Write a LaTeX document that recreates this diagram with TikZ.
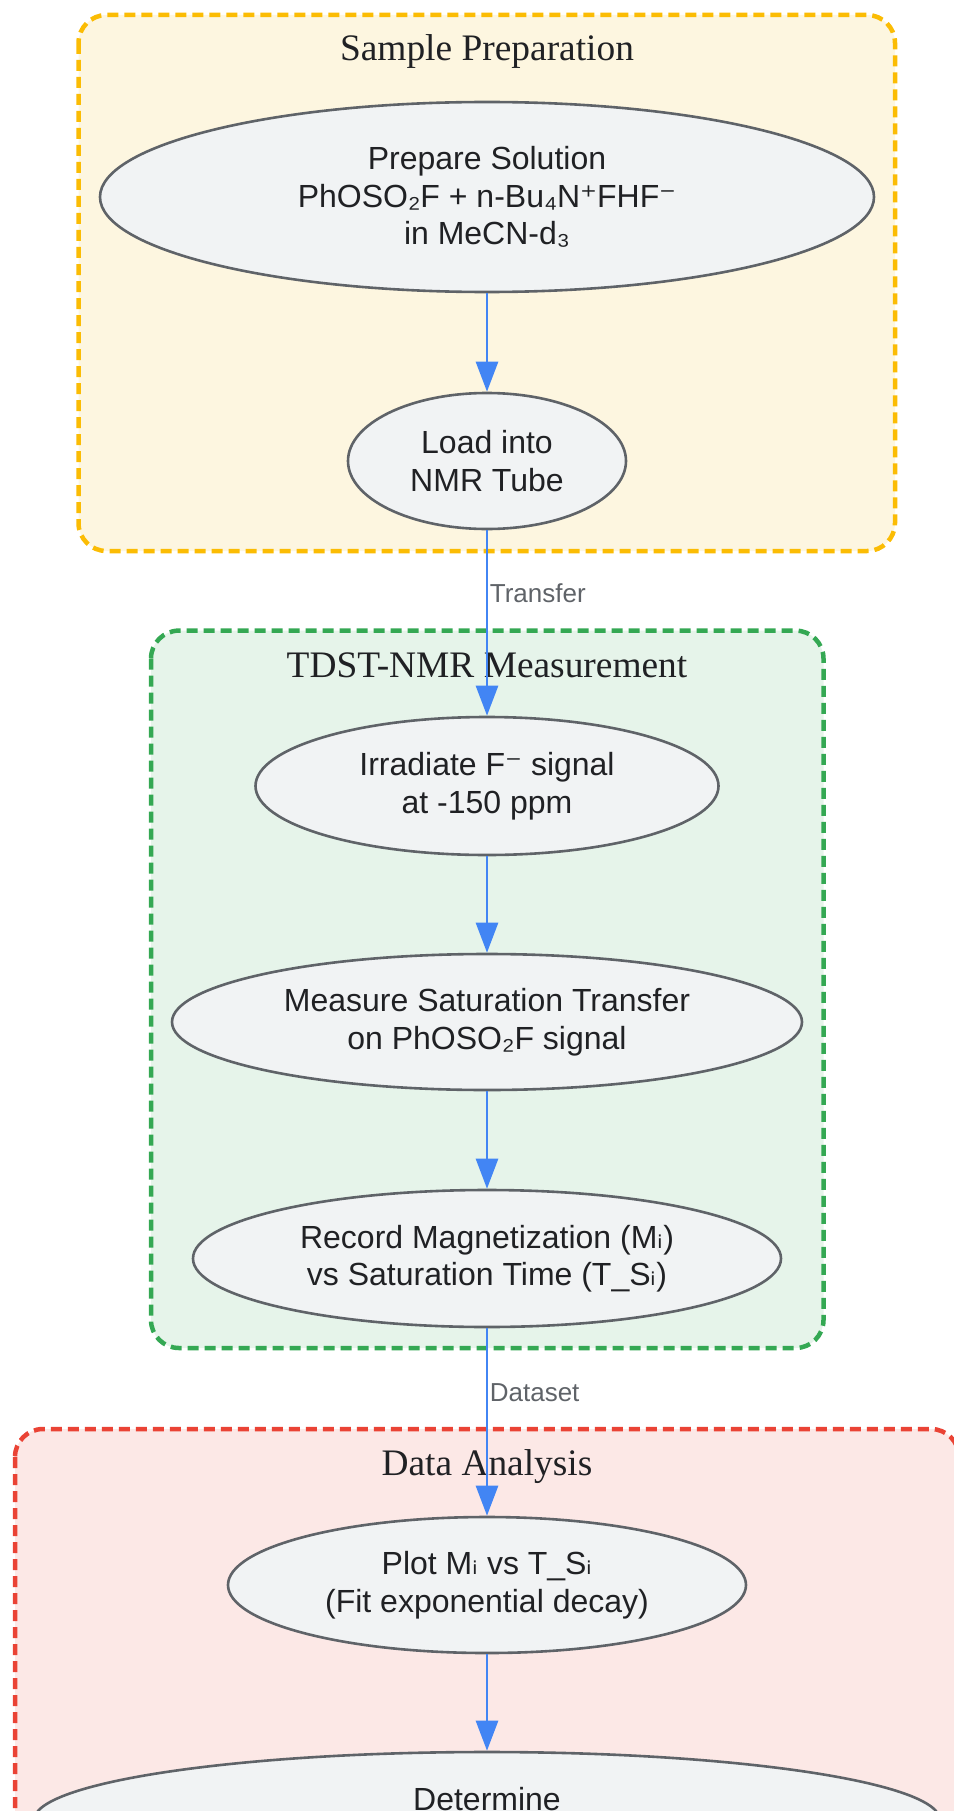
\documentclass[tikz,border=0pt]{standalone}
\usepackage{fontspec}
\setmainfont{Liberation Serif}
\newfontfamily\nodefont{Liberation Sans}
\newfontfamily\symfont{DejaVu Sans}
\usetikzlibrary{shapes.geometric,arrows.meta}
\definecolor{yfill}{HTML}{FDF6E0}
\definecolor{yline}{HTML}{FBBC04}
\definecolor{gfill}{HTML}{E6F4EA}
\definecolor{gline}{HTML}{34A853}
\definecolor{rfill}{HTML}{FCE8E6}
\definecolor{rline}{HTML}{EA4335}
\definecolor{nfill}{HTML}{F1F3F4}
\definecolor{nline}{HTML}{5F6368}
\definecolor{ablue}{HTML}{4285F4}
\definecolor{tdark}{HTML}{202124}
\definecolor{tgray}{HTML}{5F6368}
\newcommand{\subi}{{\symfont ᵢ}}
\newcommand{\supplus}{{\symfont ⁺}}
\newcommand{\supminus}{{\symfont ⁻}}
\begin{document}
\begin{tikzpicture}[x=1pt,y=-1pt,
  groupbox/.style={line width=4.5pt, dash pattern=on 11pt off 6pt, rounded corners=28pt},
  proc/.style={ellipse, draw=nline, fill=nfill, line width=2.6pt, inner sep=0pt, align=center,
    font=\nodefont\fontsize{32}{37.5}\selectfont, text=tdark},
  ptext/.style={inner sep=0pt, align=center, font=\nodefont\fontsize{32}{37.5}\selectfont, text=tdark},
  arr/.style={draw=ablue, line width=2.7pt, -{Triangle[length=30pt,width=22pt]}},
  elabel/.style={font=\nodefont\fontsize{26}{30}\selectfont, text=tgray, anchor=base west, inner sep=0pt, xshift=1.5pt},
  gtitle/.style={font=\fontsize{37.4}{44}\selectfont, text=tdark, anchor=base, inner sep=0pt}]
\useasboundingbox (0,0) rectangle (953,1811);
% group boxes
\draw[groupbox, draw=yline, fill=yfill] (78.5,15) rectangle (895,551);
\draw[groupbox, draw=gline, fill=gfill] (151,630.6) rectangle (823.5,1348);
\draw[groupbox, draw=rline, fill=rfill] (15,1429) rectangle (959,1960);
\node[gtitle] (t1) at (487,61) {Sample Preparation};
\node[gtitle] (t2) at (487,677) {TDST-NMR Measurement};
\node[gtitle] (t3) at (487,1475) {Data Analysis};
% process nodes
\node[proc, minimum width=774pt, minimum height=190pt] (e1) at (487,197)
  {Prepare Solution\\PhOSO₂F + n-Bu₄N\supplus FHF\supminus\\in MeCN-d₃};
\node[proc, minimum width=278pt, minimum height=136pt] (e2) at (487,461)
  {Load into\\NMR Tube};
\node[proc, minimum width=463pt, minimum height=138pt] (e3) at (487,786)
  {Irradiate F\supminus{} signal\\at -150 ppm};
\node[proc, minimum width=630pt, minimum height=136pt] (e4) at (487,1022)
  {Measure Saturation Transfer\\on PhOSO₂F signal};
\node[proc, minimum width=588pt, minimum height=137pt] (e5) at (487,1258.5)
  {Record Magnetization (M\subi)\\vs Saturation Time (T\_S\subi)};
\node[proc, minimum width=518pt, minimum height=136pt] (e6) at (487,1585)
  {Plot M\subi{} vs T\_S\subi\\(Fit exponential decay)};
\node[proc, minimum width=906pt, minimum height=136pt] (e7) at (487,1820) {};
\node[ptext] (e7t) at (487,1799.5) {Determine};
% connectors
\draw[arr] (e1) -- (e2);
\draw[arr] (e2) -- node[elabel, pos=0.392] {Transfer} (e3);
\draw[arr] (e3) -- (e4);
\draw[arr] (e4) -- (e5);
\draw[arr] (e5) -- node[elabel, pos=0.39] {Dataset} (e6);
\draw[arr] (e6) -- (e7);
\end{tikzpicture}
\end{document}
